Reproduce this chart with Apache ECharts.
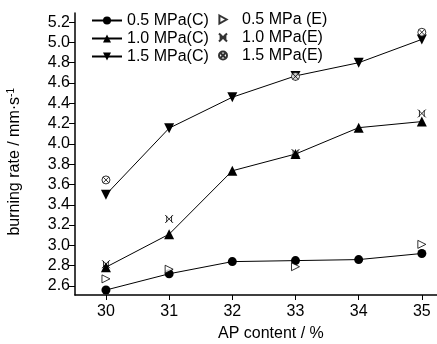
<!DOCTYPE html>
<html><head><meta charset="utf-8">
<script src="https://cdn.jsdelivr.net/npm/echarts@6/dist/echarts.min.js"></script>
<style>html,body{margin:0;padding:0;background:#fff}#c{width:437px;height:344px}</style>
</head><body><div id="c"></div>
<script>
const apContent = [30, 31, 32, 33, 34, 35];
const c05 = [2.56, 2.72, 2.84, 2.85, 2.86, 2.92];
const c10 = [2.785, 3.11, 3.735, 3.90, 4.16, 4.22];
const c15 = [3.50, 4.155, 4.46, 4.67, 4.80, 5.03];
const e05 = [[30, 2.67], [31, 2.765], [33, 2.79], [35, 3.01]];
const e10 = [[30, 2.815], [31, 3.26], [33, 3.91], [35, 4.30]];
const e15 = [[30, 3.645], [33, 4.665], [35, 5.10]];
const yTicks = [2.6, 2.8, 3.0, 3.2, 3.4, 3.6, 3.8, 4.0, 4.2, 4.4, 4.6, 4.8, 5.0, 5.2];
const xTicks = [30, 31, 32, 33, 34, 35];
const names = ['0.5 MPa(C)', '1.0 MPa(C)', '1.5 MPa(C)', '0.5 MPa (E)', '1.0 MPa(E)', '1.5 MPa(E)'];
</script>
<script>
const FONT = "'Liberation Sans', Arial, sans-serif";
const triDown = 'path://M0,0 L10,0 L5,9 Z';
const triRight = 'path://M0,0 L9,5 L0,10 Z';
const xbars = 'path://M0,0 L10,10 M10,0 L0,10 M2,1 L2,9 M8,1 L8,9';
const circX = 'path://M10,5 A5,5 0 1,1 0,5 A5,5 0 1,1 10,5 Z M1.6,1.6 L8.4,8.4 M8.4,1.6 L1.6,8.4';
const pair = a => apContent.map((x, i) => [x, a[i]]);
const lineS = (name, data, symbol, size) => ({
  name, type: 'line', data: pair(data), symbol, symbolSize: size,
  lineStyle: {color: '#000', width: 1}, itemStyle: {color: '#000'}, z: 3
});
const scatS = (name, data, symbol, size, fill) => ({
  name, type: 'scatter', data, symbol, symbolSize: size,
  itemStyle: {color: fill, borderColor: '#000', borderWidth: 1}, z: 4
});
const chart = echarts.init(document.getElementById('c'));
chart.setOption({
  animation: false,
  backgroundColor: '#fff',
  grid: {left: 75, right: 0, top: 13, bottom: 49},
  xAxis: {
    type: 'value', min: 29.51, max: 35.24,
    axisLine: {lineStyle: {color: '#000', width: 1.5}},
    axisTick: {show: true, length: 5, lineStyle: {color: '#000'}, customValues: xTicks},
    axisLabel: {color: '#000', fontFamily: FONT, fontSize: 16, margin: 9, customValues: xTicks},
    splitLine: {show: false}
  },
  yAxis: {
    type: 'value', min: 2.511, max: 5.29,
    axisLine: {show: true, lineStyle: {color: '#000', width: 1.5}},
    axisTick: {show: true, length: 6, lineStyle: {color: '#000'}, customValues: yTicks},
    axisLabel: {color: '#000', fontFamily: FONT, fontSize: 16, margin: 5, customValues: yTicks,
      formatter: v => v.toFixed(1)},
    splitLine: {show: false}
  },
  legend: [{
    data: names.slice(0, 3), orient: 'vertical', left: 86, top: 7,
    itemWidth: 30, itemHeight: 10, itemGap: 1,
    textStyle: {fontFamily: FONT, fontSize: 16, color: '#000', lineHeight: 17}
  }, {
    data: names.slice(3), orient: 'vertical', left: 213, top: 6,
    itemWidth: 20, itemHeight: 8, itemGap: 1,
    textStyle: {fontFamily: FONT, fontSize: 16, color: '#000', lineHeight: 17, padding: [0, 0, 0, 4]}
  }],
  series: [
    lineS(names[0], c05, 'circle', 9),
    lineS(names[1], c10, 'triangle', 10),
    lineS(names[2], c15, triDown, 10),
    scatS(names[3], e05, triRight, 8, '#fff'),
    scatS(names[4], e10, xbars, 8, 'transparent'),
    scatS(names[5], e15, circX, 8, '#fff')
  ],
  graphic: [{
    type: 'text', left: 6, top: 88, rotation: Math.PI / 2,
    style: {
      text: '{a|burning rate / mm·s}{b|-1}',
      rich: {
        a: {fontFamily: FONT, fontSize: 16, fill: '#000'},
        b: {fontFamily: FONT, fontSize: 10, fill: '#000', verticalAlign: 'top', padding: [0, 0, 8, 0]}
      }
    }
  }, {
    type: 'text', left: 218, top: 326,
    style: {text: 'AP content / %', fontFamily: FONT, fontSize: 16, fill: '#000'}
  }]
});
</script>
</body></html>
